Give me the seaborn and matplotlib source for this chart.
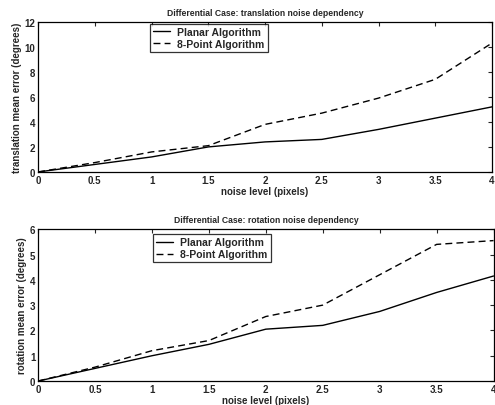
import pandas as pd
import matplotlib.pyplot as plt
import seaborn as sns

# noise level (pixels)
noise = [0, 0.5, 1, 1.5, 2, 2.5, 3, 3.5, 4]

# translation mean error (degrees)
trans_planar = [0, 0.6, 1.2, 2.0, 2.4, 2.6, 3.4, 4.3, 5.2]
trans_8pt = [0, 0.75, 1.6, 2.1, 3.8, 4.7, 5.9, 7.4, 10.3]

# rotation mean error (degrees)
rot_planar = [0, 0.5, 1.0, 1.45, 2.05, 2.2, 2.75, 3.5, 4.15]
rot_8pt = [0, 0.55, 1.2, 1.6, 2.55, 3.0, 4.2, 5.4, 5.55]

labels = ["Planar Algorithm", "8-Point Algorithm"]


def make_df(a, b):
    return pd.DataFrame({
        "noise": noise * 2,
        "err": a + b,
        "algo": [labels[0]] * len(noise) + [labels[1]] * len(noise),
    })


sns.set_style("white")
plt.rcParams["font.family"] = ["Liberation Sans", "DejaVu Sans"]
plt.rcParams["font.weight"] = "bold"
plt.rcParams["xtick.direction"] = "in"
plt.rcParams["ytick.direction"] = "in"

fig = plt.figure(figsize=(4.95, 4.06), dpi=100)
ax1 = fig.add_axes([0.077, 0.574, 0.917, 0.37])
ax2 = fig.add_axes([0.077, 0.059, 0.92, 0.374])

panels = [
    (ax1, trans_planar, trans_8pt, 12, [0, 2, 4, 6, 8, 10, 12],
     "Differential Case: translation noise dependency",
     "translation mean error (degrees)", (0.247, 0.988)),
    (ax2, rot_planar, rot_8pt, 6, [0, 1, 2, 3, 4, 5, 6],
     "Differential Case: rotation noise dependency",
     "rotation mean error (degrees)", (0.253, 0.968)),
]

for ax, a, b, ymax, yt, title, ylab, loc in panels:
    df = make_df(a, b)
    sns.lineplot(data=df, x="noise", y="err", style="algo",
                 dashes={labels[0]: "", labels[1]: (5, 3)},
                 color="black", linewidth=1.0, ax=ax)
    ax.set_xlim(0, 4)
    ax.set_ylim(0, ymax)
    ax.set_xticks([0, 0.5, 1, 1.5, 2, 2.5, 3, 3.5, 4])
    ax.set_xticklabels(["0", "0.5", "1", "1.5", "2", "2.5", "3", "3.5", "4"])
    ax.set_yticks(yt)
    ax.tick_params(labelsize=7, length=3, width=0.8, top=True, right=True, pad=2)
    ax.set_title(title, fontsize=6.2, fontweight="bold", pad=5)
    ax.set_xlabel("noise level (pixels)", fontsize=7, fontweight="bold", labelpad=1)
    ax.set_ylabel(ylab, fontsize=7, fontweight="bold", labelpad=2)
    for s in ax.spines.values():
        s.set_color("black")
        s.set_linewidth(0.9)
    leg = ax.legend(loc="upper left", bbox_to_anchor=loc, fontsize=7.5,
                    frameon=True, fancybox=False, handlelength=1.6,
                    borderpad=0.3, labelspacing=0.2, handletextpad=0.7,
                    borderaxespad=0)
    leg.get_frame().set_edgecolor("black")
    leg.get_frame().set_linewidth(0.9)

fig.savefig("out.png", dpi=100)
